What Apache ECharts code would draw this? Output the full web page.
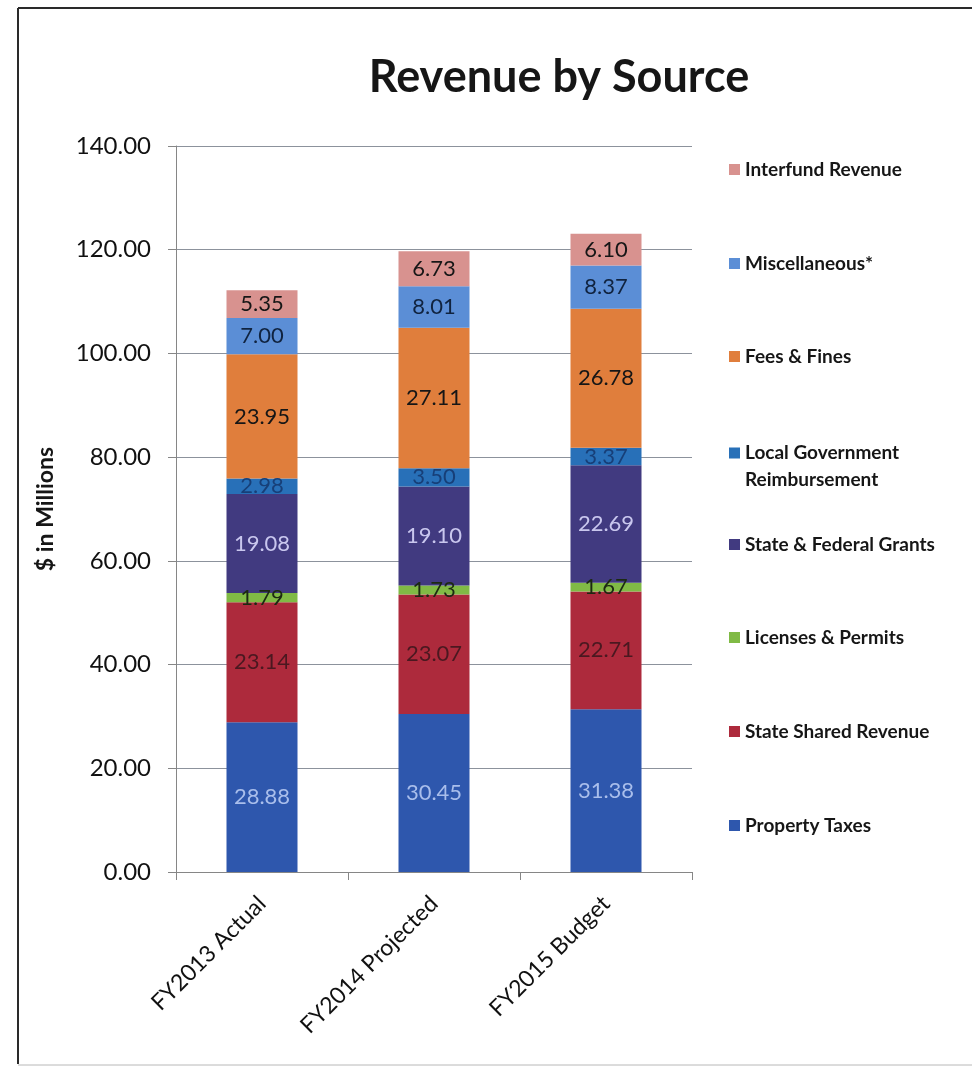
<!DOCTYPE html>
<html>
<head>
<meta charset="utf-8">
<script src="https://cdn.jsdelivr.net/npm/echarts@6/dist/echarts.min.js"></script>
<style>
  html, body { margin: 0; padding: 0; background: #ffffff; }
  #chart { width: 972px; height: 1078px; }
</style>
</head>
<body>
<div id="chart"></div>
<script>
// Fiscal years shown on the category axis
const categories = ['FY2013 Actual', 'FY2014 Projected', 'FY2015 Budget'];

// Revenue sources, stacked bottom to top ($ in millions)
const propertyTaxes      = [28.88, 30.45, 31.38];
const stateSharedRevenue = [23.14, 23.07, 22.71];
const licensesPermits    = [1.79, 1.73, 1.67];
const stateFederalGrants = [19.08, 19.10, 22.69];
const localGovReimb      = [2.98, 3.50, 3.37];
const feesFines          = [23.95, 27.11, 26.78];
const miscellaneous      = [7.00, 8.01, 8.37];
const interfundRevenue   = [5.35, 6.73, 6.10];

const seriesNames = [
  'Property Taxes',
  'State Shared Revenue',
  'Licenses & Permits',
  'State & Federal Grants',
  'Local Government\nReimbursement',
  'Fees & Fines',
  'Miscellaneous*',
  'Interfund Revenue'
];
const seriesValues = [
  propertyTaxes, stateSharedRevenue, licensesPermits, stateFederalGrants,
  localGovReimb, feesFines, miscellaneous, interfundRevenue
];

// y-axis tick range
const yMin = 0, yMax = 140, yStep = 20;

const barColors = ['#2E57AD', '#AD2A3C', '#80BA45', '#413A80', '#2870B8', '#E07E3C', '#5B8ED6', '#D8928F'];
const labelColors = ['#A9BEEB', '#4A1820', '#1C2A12', '#C9C7EE', '#173F78', '#161616', '#10233F', '#161616'];

const FONT = 'Lato, "Open Sans", sans-serif';

const series = seriesNames.map((name, i) => ({
  name: name,
  type: 'bar',
  stack: 'revenue',
  barWidth: 71,
  data: seriesValues[i],
  itemStyle: { color: barColors[i] },
  label: {
    show: true,
    position: 'inside',
    color: labelColors[i],
    fontFamily: FONT,
    fontSize: 22,
    formatter: p => p.value.toFixed(2)
  }
}));

// Legend entries listed top-down, one legend block per entry
const legendTops = [151, 245, 338, 434, 526, 619, 713, 807];
const legendOrder = seriesNames.slice().reverse();
const legends = legendOrder.map((name, k) => {
  const twoLine = name.indexOf('\n') >= 0;
  return {
    orient: 'vertical',
    left: 724,
    top: legendTops[k],
    data: [name],
    itemWidth: 11,
    itemHeight: twoLine ? 37 : 11,
    icon: twoLine ? 'path://M0,0L11,0L11,11L0,11Z M0,37L0,37Z' : 'rect',
    itemGap: 0,
    selectedMode: false,
    textStyle: {
      fontFamily: FONT,
      fontWeight: 'bold',
      fontSize: 19,
      color: '#161616',
      lineHeight: 27,
      padding: [0, 0, 0, 0]
    }
  };
});

const chart = echarts.init(document.getElementById('chart'), null, { renderer: 'canvas' });
chart.setOption({
  backgroundColor: '#ffffff',
  animation: false,
  title: {
    text: 'Revenue by Source',
    left: 554,
    top: 50,
    textAlign: 'center',
    textStyle: { fontFamily: FONT, fontWeight: 'bold', fontSize: 45, color: '#161616' }
  },
  legend: legends,
  grid: { left: 176, right: 280, top: 146, bottom: 206 },
  xAxis: {
    type: 'category',
    data: categories,
    axisLine: { lineStyle: { color: '#868686', width: 1 } },
    axisTick: { show: true, alignWithLabel: false, length: 8, lineStyle: { color: '#868686' } },
    axisLabel: {
      rotate: 45,
      margin: 28,
      fontFamily: FONT,
      fontSize: 23,
      color: '#111111',
      interval: 0
    }
  },
  yAxis: {
    type: 'value',
    min: yMin,
    max: yMax,
    interval: yStep,
    name: '$ in Millions',
    nameLocation: 'middle',
    nameGap: 119,
    nameTextStyle: { fontFamily: FONT, fontWeight: 'bold', fontSize: 23, color: '#161616' },
    axisLine: { show: true, lineStyle: { color: '#868686', width: 1 } },
    axisTick: { show: true, length: 8, lineStyle: { color: '#868686' } },
    axisLabel: {
      margin: 25,
      fontFamily: FONT,
      fontSize: 24,
      color: '#111111',
      formatter: v => v.toFixed(2)
    },
    splitLine: { show: true, lineStyle: { color: '#8C929C', width: 1 } }
  },
  series: series,
  graphic: [
    { type: 'line', shape: { x1: 18, y1: 8, x2: 972, y2: 8 }, style: { stroke: '#2a2a2a', lineWidth: 2 } },
    { type: 'line', shape: { x1: 18, y1: 8, x2: 18, y2: 1064 }, style: { stroke: '#2a2a2a', lineWidth: 2 } },
    { type: 'line', shape: { x1: 18, y1: 1065, x2: 972, y2: 1065 }, style: { stroke: '#b8b8b8', lineWidth: 1 } }
  ]
});
</script>
</body>
</html>
